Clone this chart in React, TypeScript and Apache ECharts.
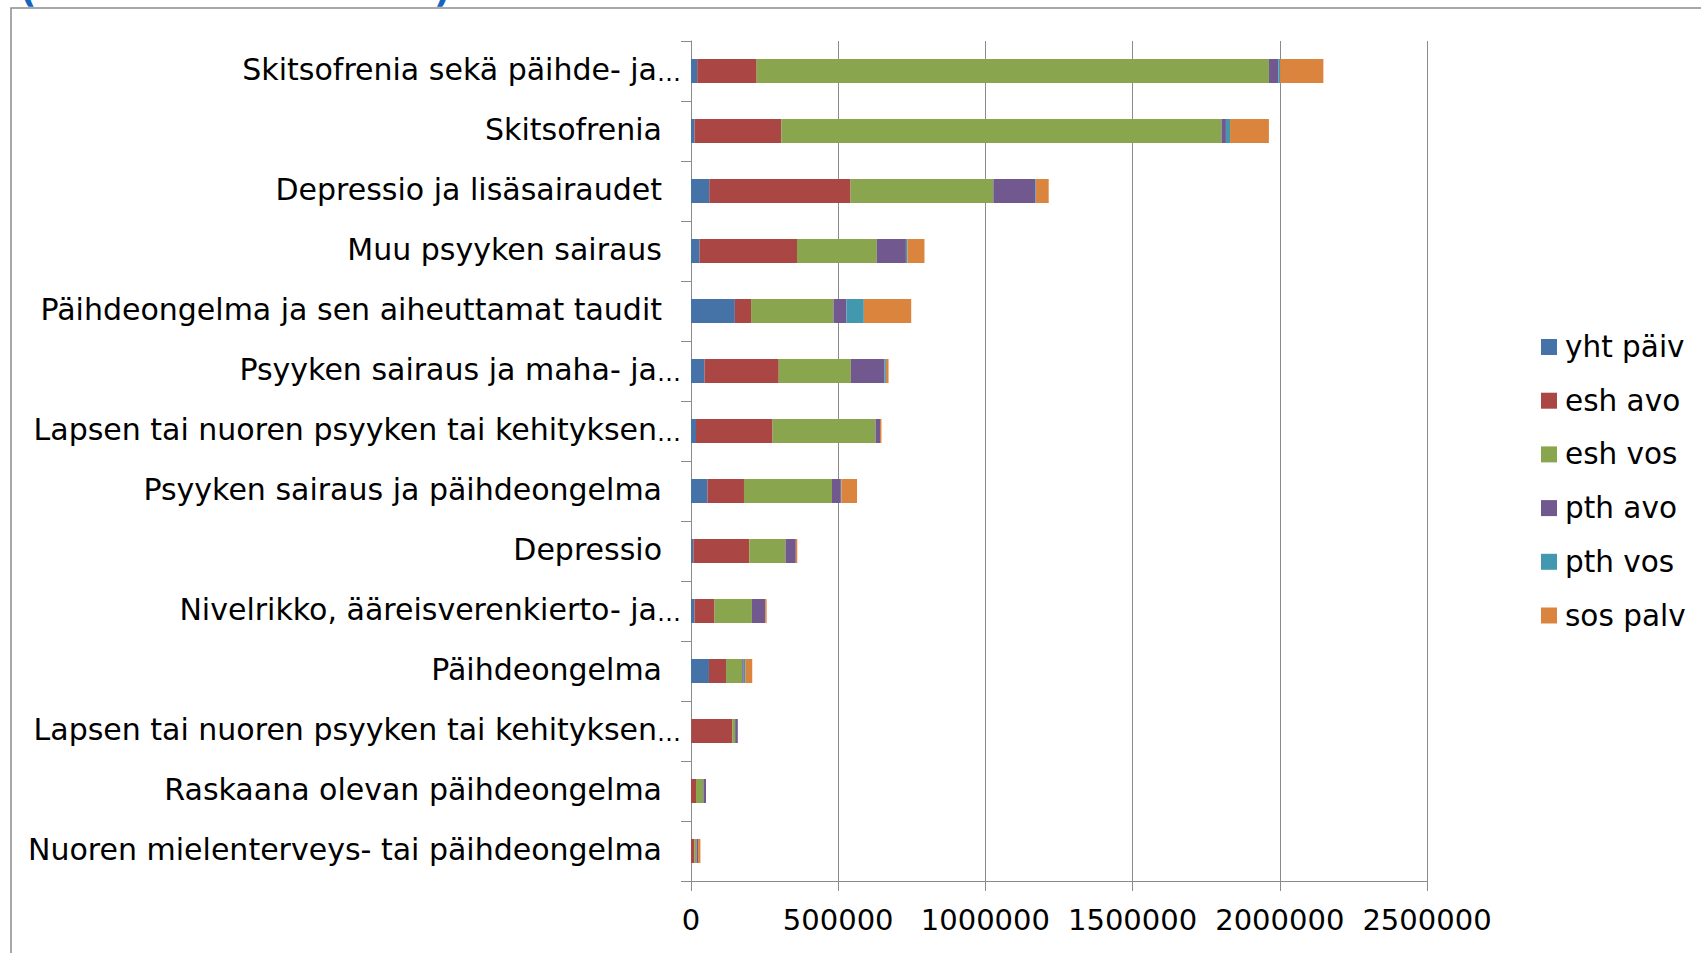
import React, { useEffect, useRef } from "react";
import * as echarts from "echarts";

const categories = [
  "Skitsofrenia sekä päihde- ja…",
  "Skitsofrenia",
  "Depressio ja lisäsairaudet",
  "Muu psyyken sairaus",
  "Päihdeongelma ja sen aiheuttamat taudit",
  "Psyyken sairaus ja maha- ja…",
  "Lapsen tai nuoren psyyken tai kehityksen…",
  "Psyyken sairaus ja päihdeongelma",
  "Depressio",
  "Nivelrikko, ääreisverenkierto- ja…",
  "Päihdeongelma",
  "Lapsen tai nuoren psyyken tai kehityksen…",
  "Raskaana olevan päihdeongelma",
  "Nuoren mielenterveys- tai päihdeongelma",
];

const seriesNames = ["yht päiv", "esh avo", "esh vos", "pth avo", "pth vos", "sos palv"];

const yhtPaiv = [21000, 12000, 62000, 29000, 149000, 46000, 17000, 56000, 8000, 12000, 61000, 1000, 0, 0];
const eshAvo = [202000, 295000, 480000, 331000, 55000, 252000, 260000, 124000, 190000, 68000, 58000, 139000, 17000, 12000];
const eshVos = [1740000, 1495000, 485000, 271000, 280000, 245000, 350000, 299000, 123000, 127000, 55000, 10000, 25000, 7000];
const pthAvo = [32000, 15000, 143000, 99000, 44000, 114000, 15000, 30000, 35000, 45000, 5000, 9000, 9000, 5000];
const pthVos = [6000, 14000, 2000, 5000, 59000, 5000, 0, 2000, 0, 0, 5000, 0, 0, 0];
const sosPalv = [147000, 132000, 43000, 58000, 161000, 9000, 5000, 53000, 5000, 5000, 24000, 0, 0, 8000];

const xTicks = { min: 0, max: 2500000, interval: 500000 };

const colors = ["#4572A7", "#AA4643", "#89A54E", "#71588F", "#4198AF", "#DB843D"];

const FONT = "DejaVu Sans";

export default function App() {
  const ref = useRef<HTMLDivElement>(null);
  useEffect(() => {
    if (!ref.current) return;
    const chart = echarts.init(ref.current, undefined, { renderer: "svg" });
    const values = [yhtPaiv, eshAvo, eshVos, pthAvo, pthVos, sosPalv];
    chart.setOption({
      animation: false,
      backgroundColor: "#ffffff",
      color: colors,
      textStyle: { fontFamily: FONT },
      graphic: [
        {
          type: "rect",
          shape: { x: 11, y: 8, width: 1800, height: 1000 },
          style: { fill: "none", stroke: "#8c8c8c", lineWidth: 1.5 },
          silent: true,
          z: -10,
        },
        {
          type: "text",
          x: 20,
          y: -29,
          style: { text: "(", fontSize: 36, fontWeight: "bold", fontFamily: FONT, fill: "#1565C0" },
          silent: true,
        },
        {
          type: "text",
          x: 434,
          y: -29,
          style: { text: ")", fontSize: 36, fontWeight: "bold", fontFamily: FONT, fill: "#1565C0" },
          silent: true,
        },
      ],
      legend: {
        data: seriesNames,
        orient: "vertical",
        left: 1541,
        top: 332,
        padding: 0,
        itemWidth: 16,
        itemHeight: 16,
        itemGap: 23.7,
        icon: "rect",
        textStyle: { fontSize: 29.5, fontFamily: FONT, color: "#000", lineHeight: 29, padding: [0, 0, 0, 3] },
      },
      grid: { left: 691, top: 41, width: 736, height: 840, containLabel: false },
      xAxis: {
        type: "value",
        min: xTicks.min,
        max: xTicks.max,
        interval: xTicks.interval,
        axisLine: { show: true, lineStyle: { color: "#8a8a8a", width: 1 } },
        axisTick: { show: true, length: 10, lineStyle: { color: "#8a8a8a" } },
        splitLine: { show: true, lineStyle: { color: "#8a8a8a", width: 1 } },
        axisLabel: {
          fontSize: 29,
          fontFamily: FONT,
          color: "#000",
          margin: 24,
          showMaxLabel: true,
          showMinLabel: true,
          hideOverlap: false,
          formatter: (v: number) => String(v),
        },
      },
      yAxis: {
        type: "category",
        inverse: true,
        data: categories,
        axisLine: { show: true, lineStyle: { color: "#8a8a8a", width: 1 } },
        axisTick: { show: true, length: 10, alignWithLabel: false, interval: 0, lineStyle: { color: "#8a8a8a" } },
        axisLabel: {
          fontSize: 30,
          fontFamily: FONT,
          color: "#000",
          margin: 5,
          interval: 0,
          padding: [0, 0, 3, 0],
          formatter: (v: string) =>
            v.endsWith("…") ? `{t|${v.slice(0, -1)}}{e|…}` : `{p|${v}}`,
          rich: {
            t: { fontSize: 30, fontFamily: FONT, color: "#000" },
            p: { fontSize: 30, fontFamily: FONT, color: "#000", padding: [0, 24, 0, 0] },
            e: { fontSize: 24, fontFamily: FONT, color: "#000", verticalAlign: "bottom", padding: [0, 5, 0, 0] },
          },
        },
      },
      series: seriesNames.map((name, i) => ({
        name,
        type: "bar",
        stack: "total",
        barWidth: 24,
        data: values[i],
        itemStyle: { color: colors[i] },
      })),
    });
    return () => chart.dispose();
  }, []);
  return (
    <div
      ref={ref}
      style={{ position: "absolute", left: 0, top: 0, width: 1701, height: 953 }}
    />
  );
}
